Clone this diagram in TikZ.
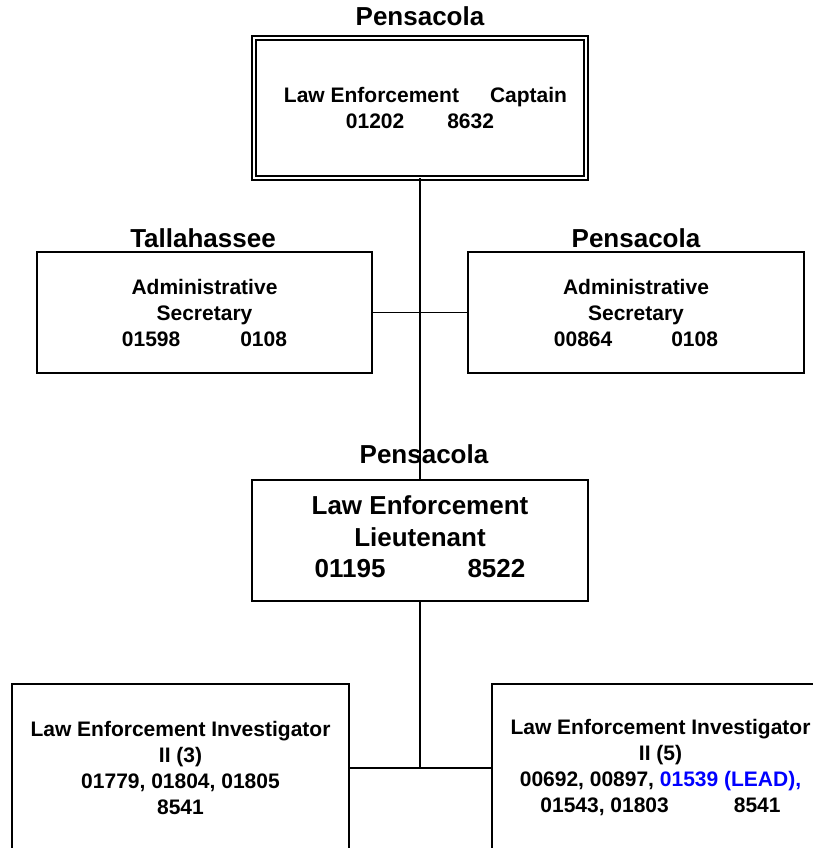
\documentclass[tikz,border=0pt]{standalone}
\usepackage{fontspec}
\setmainfont{Liberation Sans}
\newcommand\txtS{\fontsize{21}{26}\selectfont\bfseries}
\newcommand\txtL{\fontsize{26}{31.5}\selectfont\bfseries}
\newcommand\txtLoc{\fontsize{26}{30}\selectfont\bfseries}
\definecolor{leadblue}{RGB}{0,0,255}
\begin{document}
\begin{tikzpicture}[x=1pt,y=-1pt,
  every node/.style={inner sep=0pt, outer sep=0pt},
  box/.style={draw, line width=1.4pt, align=center, font=\txtS},
  capbox/.style={draw, double, double distance=2.5pt, line width=1.3pt, align=center, font=\txtS},
  loc/.style={anchor=base, font=\txtLoc},
  link/.style={line width=1.4pt}
]
\useasboundingbox (0,0) rectangle (812,848);

% captain
\node[loc] (locCap) at (420,26) {Pensacola};
\node[capbox, minimum width=332pt, minimum height=140pt] (cap) at (420,108)
  {\hspace*{11pt}Law Enforcement\hspace{31pt}Captain\\01202\hspace{43pt}8632};

% administrative secretaries
\node[loc] (locAL) at (203,247) {Tallahassee};
\node[box, minimum width=335pt, minimum height=121pt] (adminL) at (204.5,312.5)
  {Administrative\\Secretary\\01598\hspace{60pt}0108};
\node[loc] (locAR) at (636,247) {Pensacola};
\node[box, minimum width=336pt, minimum height=121pt] (adminR) at (636,312.5)
  {Administrative\\Secretary\\00864\hspace{59pt}0108};

% lieutenant
\node[loc] (locLt) at (424,463) {Pensacola};
\node[box, font=\txtL, text depth=7pt, minimum width=336pt, minimum height=121pt] (lt) at (420,540.5)
  {Law Enforcement\\Lieutenant\\01195\hspace{82pt}8522};

% investigators
\node[box, minimum width=337pt, minimum height=168pt] (invL) at (180.5,768)
  {Law Enforcement Investigator\\II (3)\\01779, 01804, 01805\\8541};
\node[box, minimum width=337pt, minimum height=168pt] (invR) at (660.5,768)
  {Law Enforcement Investigator\\II (5)\\00692, 00897, \textcolor{leadblue}{01539 (LEAD),}\\01543, 01803\hspace{65pt}8541};

% connectors
\draw[link] (cap.south) -- (lt.north);
\draw[link] (adminL.east) -- (adminR.west);
\coordinate (jn) at (lt.south |- invL.east);
\draw[link] (lt.south) -- (jn);
\draw[link] (invL.east) -- (invR.west);
\end{tikzpicture}
\end{document}
